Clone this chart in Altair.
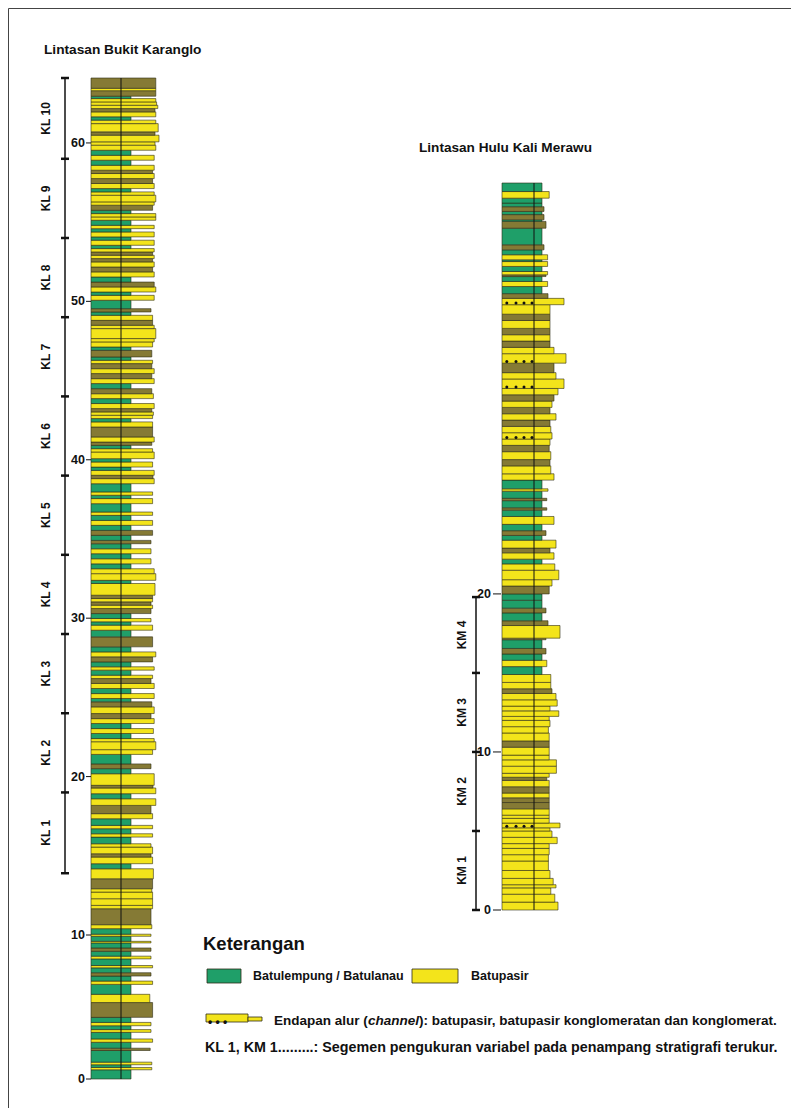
import altair as alt
import pandas as pd

# ---------------- DATA ----------------
# Lintasan Bukit Karanglo : bed tops (m), lithology (C clay/silt, S sand, T thin-bedded sand, H channel), relative grain width
L_TOP = [0.64, 0.80, 0.99, 1.17, 1.98, 2.14, 2.55, 2.78, 3.24, 3.43,
         3.70, 3.93, 4.28, 5.31, 5.88, 6.57, 6.80, 7.15, 7.38, 7.72,
         7.88, 8.34, 8.53, 8.87, 9.10, 9.45, 9.56, 9.91, 10.05, 10.40,
         10.65, 11.66, 11.87, 12.29, 12.71, 12.92, 13.55, 14.18, 14.50, 14.92,
         15.13, 15.55, 15.76, 16.18, 16.39, 16.71, 16.92, 17.34, 17.66, 18.18,
         18.60, 18.92, 19.28, 19.45, 20.18, 20.50, 20.80, 21.40, 21.70, 22.20,
         22.40, 22.72, 23.03, 23.35, 23.66, 23.98, 24.40, 24.72, 24.93, 25.24,
         25.56, 25.88, 26.19, 26.40, 26.72, 26.93, 27.24, 27.56, 27.87, 28.19,
         28.82, 29.24, 29.56, 29.77, 29.98, 30.29, 30.61, 30.82, 31.03, 31.24,
         31.45, 32.19, 32.39, 32.81, 33.12, 33.43, 33.75, 34.07, 34.38, 34.70,
         34.91, 35.23, 35.54, 35.86, 36.17, 36.49, 36.70, 37.23, 37.55, 37.76,
         37.97, 38.49, 38.81, 39.02, 39.33, 39.54, 39.86, 40.07, 40.49, 40.70,
         40.91, 41.12, 41.44, 42.07, 42.39, 42.60, 42.81, 43.02, 43.23, 43.55,
         43.86, 44.17, 44.49, 44.81, 45.12, 45.44, 45.75, 46.07, 46.28, 46.49,
         46.91, 47.12, 47.44, 47.65, 48.28, 48.49, 48.80, 49.12, 49.33, 49.54,
         50.07, 50.38, 50.59, 50.91, 51.22, 51.54, 51.86, 52.17, 52.49, 52.70,
         52.91, 53.12, 53.33, 53.54, 53.86, 54.07, 54.38, 54.59, 54.80, 55.12,
         55.33, 55.54, 55.75, 56.07, 56.28, 56.70, 56.91, 57.12, 57.44, 57.75,
         58.07, 58.28, 58.59, 58.91, 59.22, 59.54, 59.86, 60.07, 60.49, 60.70,
         61.22, 61.44, 61.65, 61.96, 62.17, 62.38, 62.59, 62.80, 62.95, 63.30, 63.45, 64.10]
L_LITH = list("CSCSCTCSCS" "CSCTSCSCTC" "SCSCTCSCSC" "STSSSSTSCS" "TSSCSCSCST"
              "SCSTSCTCSS" "SCSCSTSTCS" "CSTSCSCTSC" "TCSCSCTSTS" "TSCSSCSCSC"
              "TCTCSCSCSC" "SCSTSCSCSS" "CTSTSCSSTS" "CSTCSTSTSC" "TCSSSSTSCT"
              "CSCSTCSTST" "STSCSCSCSC" "SSCTSSSCST" "STSCSCSSST" "SSCSTSSSCTST")
L_W = [1, 1.52, 1, 1.52, 1, 1.48, 1, 1.54, 1, 1.50,
       1, 1.50, 1, 1.54, 1.47, 1, 1.54, 1, 1.50, 1,
       1.54, 1, 1.50, 1, 1.50, 1, 1.50, 1, 1.50, 1,
       1.52, 1.50, 1.54, 1.54, 1.54, 1.52, 1.54, 1.56, 1, 1.54,
       1.50, 1.54, 1.50, 1, 1.54, 1, 1.54, 1, 1.54, 1.50,
       1.62, 1, 1.62, 1.55, 1.58, 1, 1.50, 1, 1.54, 1.62,
       1.58, 1, 1.56, 1, 1.58, 1.50, 1.58, 1.52, 1, 1.58,
       1, 1.58, 1.50, 1.54, 1, 1.58, 1, 1.54, 1.62, 1,
       1.54, 1, 1.54, 1, 1.50, 1, 1.50, 1.54, 1.50, 1.54,
       1.54, 1.60, 1, 1.62, 1.58, 1, 1.50, 1, 1.50, 1,
       1.50, 1, 1.54, 1, 1.54, 1, 1.54, 1, 1.54, 1,
       1.54, 1, 1.58, 1.55, 1.58, 1, 1.54, 1, 1.58, 1.54,
       1, 1.52, 1.58, 1.54, 1.54, 1, 1.54, 1.56, 1.52, 1.58,
       1, 1.56, 1.52, 1, 1.58, 1.52, 1.58, 1.52, 1.54, 1,
       1.52, 1, 1.54, 1.58, 1.62, 1.58, 1.54, 1.54, 1, 1.50,
       1, 1.58, 1, 1.62, 1.58, 1, 1.58, 1.54, 1.58, 1.54,
       1.58, 1.54, 1.58, 1, 1.58, 1, 1.58, 1, 1.58, 1,
       1.62, 1.62, 1, 1.54, 1.58, 1.62, 1.58, 1, 1.58, 1.54,
       1.58, 1.54, 1.58, 1, 1.58, 1, 1.62, 1.60, 1.70, 1.60,
       1.68, 1.62, 1, 1.62, 1.60, 1.67, 1.64, 1.62, 1, 1.62, 1.62, 1.62]

# Lintasan Hulu Kali Merawu
R_TOP = [0.5, 1.0, 1.4, 1.6, 2.0, 2.5, 3.1, 3.5, 3.9, 4.2,
         4.6, 5.0, 5.2, 5.5, 5.8, 6.0, 6.4, 6.8, 7.1, 7.4,
         7.8, 8.2, 8.4, 8.65, 9.1, 9.5, 9.8, 10.3, 10.7, 11.2,
         11.6, 12.0, 12.25, 12.6, 12.9, 13.3, 13.7, 14.0, 14.4, 14.9,
         15.4, 15.8, 16.2, 16.55, 17.1, 17.2, 18.0, 18.3, 18.8, 19.1,
         19.6, 20.0, 20.5, 20.9, 21.5, 21.9, 22.2, 22.6, 22.9, 23.4,
         23.7, 24.0, 24.4, 24.9, 25.3, 25.45, 25.9, 26.05, 26.5, 26.65, 27.2, 27.6,
         28.1, 28.5, 29.0, 29.4, 29.8, 30.2, 30.6, 31.0, 31.4, 31.8,
         32.2, 32.6, 33.0, 33.6, 34.0, 34.6, 35.2, 35.6, 36.0, 36.4,
         36.8, 37.3, 37.7, 38.3, 38.7, 39.0, 39.45, 39.77, 40.08, 40.19,
         40.4, 40.72, 41.03, 41.14, 41.46, 41.77, 42.09, 43.14, 43.57, 43.67,
         44.0, 44.2, 44.5, 44.73, 45.04, 45.46, 46.0]
R_LITH = list("SSSSSSSSSS" "SSSHSSSTTS" "TSTSSSSSTS" "SSSSSSSTSS" "CSCTCTSTCT"
              "CCTSSSCSTS" "CTCSCTCTCSCS" "STSTSHSTST" "STSHSTHSTS" "TSTSHTCSCT"
              "SCSCSCTCTC" "TCTCCSC")
R_W = [1.40, 1.32, 1.22, 1.35, 1.28, 1.20, 1.16, 1.16, 1.18, 1.18,
       1.38, 1.25, 1.20, 1.45, 1.18, 1.18, 1.18, 1.18, 1.18, 1.18,
       1.18, 1.18, 1.12, 1.18, 1.36, 1.36, 1.18, 1.18, 1.18, 1.18,
       1.16, 1.20, 1.18, 1.42, 1.20, 1.38, 1.35, 1.25, 1.22, 1.22,
       1, 1.12, 1, 1.10, 1, 1.10, 1.45, 1.15, 1, 1.10,
       1, 1, 1.18, 1.25, 1.42, 1.32, 1, 1.30, 1.20, 1.35,
       1, 1.10, 1, 1.30, 1, 1.12, 1, 1.12, 1, 1.15, 1, 1.30,
       1.22, 1.20, 1.22, 1.18, 1.20, 1.25, 1.22, 1.20, 1.35, 1.20,
       1.25, 1.30, 1.40, 1.55, 1.35, 1.30, 1.60, 1.30, 1.20, 1.20,
       1.20, 1.20, 1.20, 1.20, 1.55, 1.15, 1, 1.14, 1, 1.10,
       1.14, 1, 1.14, 1, 1.14, 1, 1.05, 1, 1.10, 1,
       1.05, 1, 1.05, 1, 1, 1.18, 1]

L_TICKS = [0, 10, 20, 30, 40, 50, 60]
R_TICKS = [0, 10, 20]
KL_BOUNDS = [13.9, 19.0, 24.0, 29.0, 34.0, 39.0, 44.0, 49.0, 54.0, 59.0, 64.1]
KL_LABELS = ["KL 1", "KL 2", "KL 3", "KL 4", "KL 5", "KL 6", "KL 7", "KL 8", "KL 9", "KL 10"]
KM_BOUNDS = [0.0, 5.0, 10.0, 15.0, 19.8]
KM_LABELS = ["KM 1", "KM 2", "KM 3", "KM 4"]
DOT_POS = [0.12, 0.35, 0.55, 0.75]

# ---------------- STYLE ----------------
FONT = "Liberation Sans"
GREEN = "#1f9f69"
YELLOW = "#f3e41b"
OLIVE = "#857a35"
EDGE = "#2e2c16"

lith_scale = alt.Scale(domain=["C", "S", "T", "H"], range=[GREEN, YELLOW, OLIVE, YELLOW])
yL = alt.Scale(domain=[0, 10, L_TOP[-1]], range=[1071, 927, 70], nice=False, zero=False)
xL = alt.Scale(domain=[0, 1], range=[83, 123], nice=False, zero=False)
yR = alt.Scale(domain=[0, R_TOP[-1]], range=[902, 175], nice=False, zero=False)
xR = alt.Scale(domain=[0, 1], range=[494, 534], nice=False, zero=False)


def bed_frame(tops, liths, widths):
    assert len(tops) == len(liths) == len(widths), (len(tops), len(liths), len(widths))
    bases = [0.0] + list(tops[:-1])
    return pd.DataFrame({"base": bases, "top": tops, "lith": liths, "w": widths,
                         "x0": [0.0] * len(tops)})


def column(tops, liths, widths, xs, ys, mid):
    df = bed_frame(tops, liths, widths)
    beds = alt.Chart(df).mark_rect(stroke=EDGE, strokeWidth=0.6).encode(
        x=alt.X("x0:Q", scale=xs, axis=None), x2="w:Q",
        y=alt.Y("base:Q", scale=ys, axis=None), y2="top:Q",
        color=alt.Color("lith:N", scale=lith_scale, legend=None))
    vline = alt.Chart(pd.DataFrame({"x": [mid], "a": [0.0], "b": [tops[-1]]})).mark_rule(
        color="#111", strokeWidth=1).encode(
        x=alt.X("x:Q", scale=xs, axis=None),
        y=alt.Y("a:Q", scale=ys, axis=None), y2="b:Q")
    ch = df[df.lith == "H"]
    dots = pd.DataFrame([{"x": p, "y": b + 0.1} for b in ch.base for p in DOT_POS])
    layers = [beds, vline]
    if len(dots):
        layers.append(alt.Chart(dots).mark_point(filled=True, size=9, color="#111", opacity=1).encode(
            x=alt.X("x:Q", scale=xs, axis=None), y=alt.Y("y:Q", scale=ys, axis=None)))
    return layers


def depth_axis(ticks, ys, xlab, xt1, xt2):
    df = pd.DataFrame({"v": ticks, "lab": [str(t) for t in ticks]})
    rule = alt.Chart(df).mark_rule(color="#111", strokeWidth=1).encode(
        y=alt.Y("v:Q", scale=ys, axis=None), x=alt.value(xt1), x2=alt.value(xt2))
    lab = alt.Chart(df).mark_text(align="right", baseline="middle", font=FONT, fontSize=12.5,
                                  fontWeight="bold", color="#111").encode(
        y=alt.Y("v:Q", scale=ys, axis=None), x=alt.value(xlab), text="lab:N")
    return [rule, lab]


def segments(bounds, labels, ys, xbar, xlab):
    bar = alt.Chart(pd.DataFrame({"a": [bounds[0]], "b": [bounds[-1]]})).mark_rule(
        color="#111", strokeWidth=1.5).encode(
        y=alt.Y("a:Q", scale=ys, axis=None), y2="b:Q", x=alt.value(xbar))
    tk = alt.Chart(pd.DataFrame({"v": bounds})).mark_rule(color="#111", strokeWidth=2.5).encode(
        y=alt.Y("v:Q", scale=ys, axis=None), x=alt.value(xbar - 4), x2=alt.value(xbar + 4))
    mids = [(bounds[i] + bounds[i + 1]) / 2 for i in range(len(labels))]
    lab = alt.Chart(pd.DataFrame({"m": mids, "lab": labels})).mark_text(
        angle=270, align="center", baseline="middle", font=FONT, fontSize=12,
        fontWeight="bold", color="#111").encode(
        y=alt.Y("m:Q", scale=ys, axis=None), x=alt.value(xlab), text="lab:N")
    return [bar, tk, lab]


def text(t, x, y, size=12, weight="bold", style="normal", align="left"):
    return alt.Chart(pd.DataFrame({"t": [t]})).mark_text(
        align=align, baseline="middle", font=FONT, fontSize=size, fontWeight=weight,
        fontStyle=style, color="#111").encode(x=alt.value(x), y=alt.value(y), text="t:N")


def swatch(color, x1, x2, y1, y2):
    return alt.Chart(pd.DataFrame({"k": [0]})).mark_rect(color=color, stroke=EDGE, strokeWidth=0.8).encode(
        x=alt.value(x1), x2=alt.value(x2), y=alt.value(y1), y2=alt.value(y2))


layers = []
layers += column(L_TOP, L_LITH, L_W, xL, yL, 0.75)
layers += column(R_TOP, R_LITH, R_W, xR, yR, 0.80)
layers += depth_axis(L_TICKS, yL, 77, 78, 83)
layers += depth_axis(R_TICKS, yR, 483, 485, 493)
layers += segments(KL_BOUNDS, KL_LABELS, yL, 57, 38)
layers += segments(KM_BOUNDS, KM_LABELS, yR, 468, 454)

layers += [
    text("Lintasan Bukit Karanglo", 36, 42, size=13.7),
    text("Lintasan Hulu Kali Merawu", 411, 140, size=13.6),
    text("Keterangan", 195, 936, size=18.5),
    swatch(GREEN, 199, 233, 961, 975),
    text("Batulempung / Batulanau", 245, 968, size=12.5),
    swatch(YELLOW, 404, 450, 961, 975),
    text("Batupasir", 463, 968, size=12.5),
    swatch(YELLOW, 198, 240, 1006, 1014),
    swatch(YELLOW, 240, 254, 1009, 1013),
    text("\u2022 \u2022 \u2022", 200, 1014, size=12),
    text("Endapan alur (", 266, 1013, size=13.5),
    text("channel", 360, 1013, size=13.5, style="italic"),
    text("): batupasir, batupasir konglomeratan dan konglomerat.", 411, 1013, size=13.5),
    text("KL 1, KM 1.........: Segemen pengukuran variabel pada penampang stratigrafi terukur.", 197, 1040, size=14.3),
]

chart = alt.layer(*layers).resolve_scale(x="independent", y="independent").properties(
    width=783, height=1100, padding=0, autosize=alt.AutoSizeParams(type="none"),
    background="white"
).configure_view(stroke="#444", strokeWidth=1)

chart.save("out.html", embed_options={"renderer": "svg", "actions": False})
